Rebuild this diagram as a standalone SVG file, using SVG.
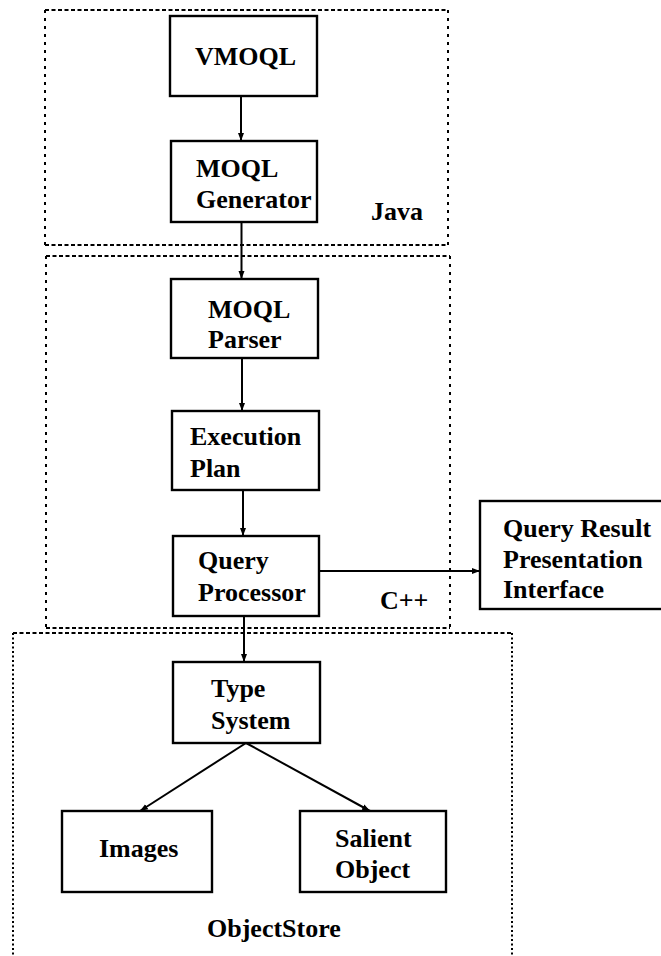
<svg xmlns="http://www.w3.org/2000/svg" width="661" height="956" viewBox="0 0 661 956">
  <style>
    .box { fill: #fff; stroke: #000; stroke-width: 2.4; }
    .lbl { font-family: "Liberation Serif", "Times New Roman", serif; font-size: 26px; font-weight: bold; fill: #000; }
    .frame-h { fill: none; stroke: #000; stroke-width: 2; stroke-dasharray: 4 2.5; }
    .frame-v { fill: none; stroke: #000; stroke-width: 2; stroke-dasharray: 3 5; }
    .frame-d { fill: none; stroke: #000; stroke-width: 2; stroke-dasharray: 2 2.5; }
    .edge { fill: none; stroke: #000; stroke-width: 2; marker-end: url(#head); }
  </style>
  <defs>
    <marker id="head" markerUnits="userSpaceOnUse" markerWidth="8" markerHeight="8" viewBox="0 0 8 8" refX="8" refY="4" orient="auto">
      <path d="M0,1 L8,4 L0,7 Z" fill="#000"/>
    </marker>
  </defs>
  <rect width="661" height="956" fill="#fff"/>

  <!-- language / storage regions -->
  <g id="region-java">
    <line class="frame-h" x1="45" y1="10" x2="448" y2="10"/>
    <line class="frame-h" x1="45" y1="245" x2="448" y2="245"/>
    <line class="frame-v" x1="45" y1="10" x2="45" y2="245"/>
    <line class="frame-v" x1="448" y1="10" x2="448" y2="245"/>
    <text class="lbl" x="371" y="220">Java</text>
  </g>
  <g id="region-cpp">
    <line class="frame-h" x1="46" y1="256" x2="450" y2="256"/>
    <line class="frame-h" x1="46" y1="628" x2="450" y2="628"/>
    <line class="frame-v" x1="46" y1="256" x2="46" y2="628"/>
    <line class="frame-v" x1="450" y1="256" x2="450" y2="628"/>
    <text class="lbl" x="380" y="609">C++</text>
  </g>
  <g id="region-objectstore">
    <line class="frame-h" x1="13" y1="633" x2="512" y2="633"/>
    <line class="frame-d" x1="13" y1="633" x2="13" y2="956"/>
    <line class="frame-d" x1="512" y1="633" x2="512" y2="956"/>
    <text class="lbl" x="207" y="937">ObjectStore</text>
  </g>

  <!-- connectors -->
  <g id="connectors">
    <line class="edge" x1="241" y1="96" x2="241" y2="141"/>
    <line class="edge" x1="241.5" y1="222" x2="241.5" y2="279"/>
    <line class="edge" x1="242" y1="358" x2="242" y2="411"/>
    <line class="edge" x1="243" y1="490" x2="243" y2="536"/>
    <line class="edge" x1="319" y1="571" x2="480" y2="571"/>
    <line class="edge" x1="244" y1="616" x2="244" y2="662"/>
    <line class="edge" x1="246" y1="743" x2="140" y2="811"/>
    <line class="edge" x1="246" y1="743" x2="370" y2="811"/>
  </g>

  <!-- nodes -->
  <g id="vmoql">
    <rect class="box" x="170" y="16" width="147" height="80"/>
    <text class="lbl" x="195" y="65">VMOQL</text>
  </g>
  <g id="moql-generator">
    <rect class="box" x="171" y="141" width="146" height="81"/>
    <text class="lbl" x="196" y="177">MOQL</text>
    <text class="lbl" x="196" y="208">Generator</text>
  </g>
  <g id="moql-parser">
    <rect class="box" x="171" y="279" width="147" height="79"/>
    <text class="lbl" x="208" y="318">MOQL</text>
    <text class="lbl" x="208" y="348">Parser</text>
  </g>
  <g id="execution-plan">
    <rect class="box" x="172" y="411" width="147" height="79"/>
    <text class="lbl" x="190" y="445">Execution</text>
    <text class="lbl" x="190" y="477">Plan</text>
  </g>
  <g id="query-processor">
    <rect class="box" x="173" y="536" width="146" height="80"/>
    <text class="lbl" x="198" y="569">Query</text>
    <text class="lbl" x="198" y="601">Processor</text>
  </g>
  <g id="query-result-interface">
    <rect class="box" x="480" y="501" width="190" height="108"/>
    <text class="lbl" x="503" y="537">Query Result</text>
    <text class="lbl" x="503" y="568">Presentation</text>
    <text class="lbl" x="503" y="598">Interface</text>
  </g>
  <g id="type-system">
    <rect class="box" x="173" y="662" width="147" height="81"/>
    <text class="lbl" x="211" y="697">Type</text>
    <text class="lbl" x="211" y="729">System</text>
  </g>
  <g id="images">
    <rect class="box" x="62" y="811" width="150" height="81"/>
    <text class="lbl" x="99" y="857">Images</text>
  </g>
  <g id="salient-object">
    <rect class="box" x="300" y="811" width="146" height="81"/>
    <text class="lbl" x="335" y="847">Salient</text>
    <text class="lbl" x="335" y="878">Object</text>
  </g>
</svg>
